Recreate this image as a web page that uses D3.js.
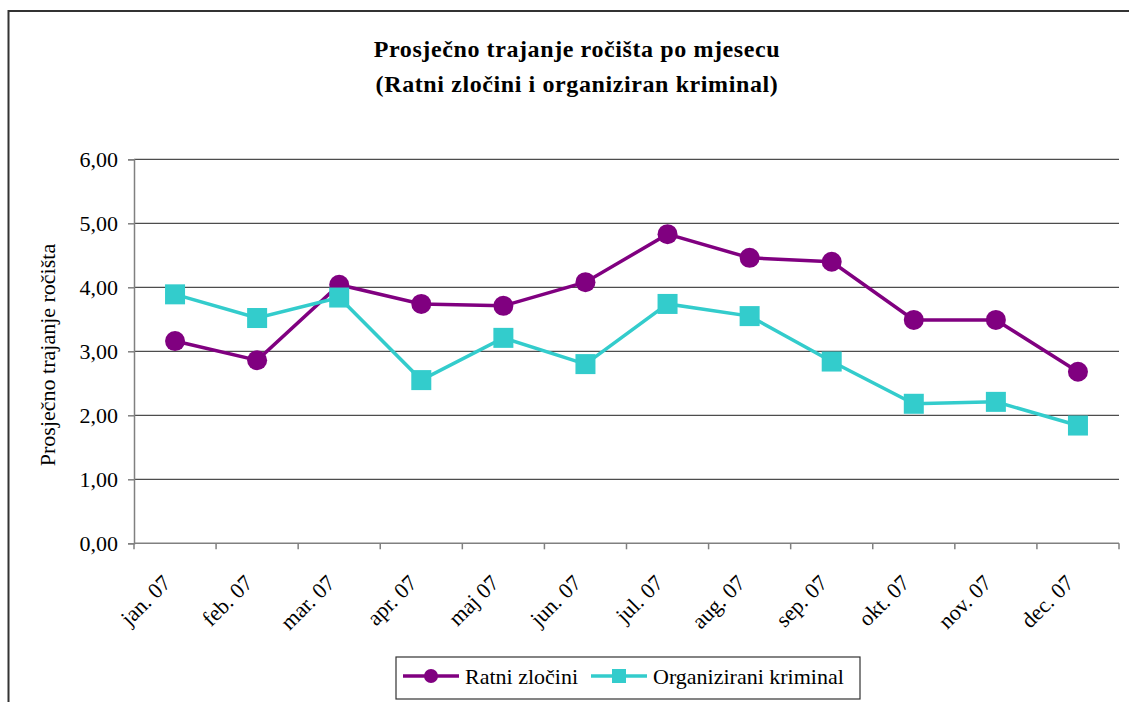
<!DOCTYPE html>
<html>
<head>
<meta charset="utf-8">
<script src="https://cdn.jsdelivr.net/npm/d3@7"></script>
<style>
  body { margin: 0; background: white; }
  svg text { font-family: "Liberation Serif", "Times New Roman", "DejaVu Serif", serif; }
</style>
</head>
<body>
<svg id="chart" width="1129" height="702"></svg>
<script>
const months = ["jan. 07", "feb. 07", "mar. 07", "apr. 07", "maj 07", "jun. 07",
                "jul. 07", "aug. 07", "sep. 07", "okt. 07", "nov. 07", "dec. 07"];
const ratniZlocini = [3.16, 2.86, 4.04, 3.74, 3.71, 4.08, 4.83, 4.46, 4.40, 3.49, 3.49, 2.68];
const organiziraniKriminal = [3.89, 3.52, 3.84, 2.55, 3.21, 2.80, 3.74, 3.55, 2.84, 2.18, 2.21, 1.84];
const yTicks = [0, 1, 2, 3, 4, 5, 6];
const titleLines = ["Prosječno trajanje ročišta po mjesecu", "(Ratni zločini i organiziran kriminal)"];

const series = [
    { name: "Ratni zločini", values: ratniZlocini, colour: "#800080", marker: "circle" },
    { name: "Organizirani kriminal", values: organiziraniKriminal, colour: "#33CCCC", marker: "square" }
];

const fontFamily = '"Liberation Serif", "Times New Roman", serif';
const svg = d3.select("#chart");

// outer chart border
svg.append("rect")
    .attr("x", 8.5).attr("y", 11)
    .attr("width", 1140).attr("height", 720)
    .attr("fill", "none")
    .attr("stroke", "#333")
    .attr("stroke-width", 2);

const plot = { left: 134, right: 1119, top: 159.3, bottom: 543.3 };

const xScale = d3.scaleBand()
    .domain(months)
    .range([plot.left, plot.right]);
const yScale = d3.scaleLinear()
    .domain([0, 6])
    .range([plot.bottom, plot.top]);

// title
svg.selectAll(".title")
    .data(titleLines)
    .join("text")
    .attr("class", "title")
    .attr("x", 577)
    .attr("y", (d, i) => 57 + i * 35)
    .attr("text-anchor", "middle")
    .attr("font-size", 24)
    .attr("font-weight", "bold")
    .attr("letter-spacing", 0.6)
    .text(d => d);

// gridlines
svg.selectAll(".grid")
    .data(yTicks.filter(d => d > 0))
    .join("line")
    .attr("class", "grid")
    .attr("x1", plot.left).attr("x2", plot.right)
    .attr("y1", d => yScale(d)).attr("y2", d => yScale(d))
    .attr("stroke", "#4d4d4d")
    .attr("stroke-width", 1.2);

// y axis
const yAxis = svg.append("g")
    .attr("transform", `translate(${plot.left},0)`)
    .call(d3.axisLeft(yScale).tickValues(yTicks).tickSize(6).tickPadding(10)
        .tickFormat(d => d3.format(".2f")(d).replace(".", ",")));
yAxis.attr("font-family", fontFamily);
yAxis.select(".domain").attr("stroke", "#808080").attr("stroke-width", 1.5);
yAxis.selectAll(".tick line").attr("stroke", "#808080").attr("stroke-width", 1.5);
yAxis.selectAll(".tick text")
    .attr("font-size", 22)
    .attr("fill", "black");

// x axis
const xAxis = svg.append("g")
    .attr("transform", `translate(0,${plot.bottom})`);
xAxis.append("line")
    .attr("x1", plot.left).attr("x2", plot.right)
    .attr("stroke", "#808080").attr("stroke-width", 1.5);
xAxis.selectAll(".xtick")
    .data(months.concat(["end"]))
    .join("line")
    .attr("class", "xtick")
    .attr("x1", (d, i) => i < months.length ? xScale(d) : plot.right)
    .attr("x2", (d, i) => i < months.length ? xScale(d) : plot.right)
    .attr("y1", 0).attr("y2", 6)
    .attr("stroke", "#808080").attr("stroke-width", 1.5);
xAxis.selectAll(".xlabel")
    .data(months)
    .join("text")
    .attr("class", "xlabel")
    .attr("transform", d => `translate(${xScale(d) + xScale.bandwidth() / 2 - 3},41) rotate(-45)`)
    .attr("text-anchor", "end")
    .attr("font-size", 22)
    .text(d => d);

// y axis title
svg.append("text")
    .attr("transform", `translate(55,355) rotate(-90)`)
    .attr("text-anchor", "middle")
    .attr("font-size", 22)
    .text("Prosječno trajanje ročišta");

// series
const line = d3.line()
    .x((d, i) => xScale(months[i]) + xScale.bandwidth() / 2)
    .y(d => yScale(d));

const drawMarker = (g, s, x, y) => {
    if (s.marker === "circle") {
        g.append("circle").attr("cx", x).attr("cy", y).attr("r", 10).attr("fill", s.colour);
    } else {
        g.append("rect").attr("x", x - 10).attr("y", y - 10).attr("width", 20).attr("height", 20).attr("fill", s.colour);
    }
};

series.forEach(s => {
    const g = svg.append("g");
    g.append("path")
        .datum(s.values)
        .attr("fill", "none")
        .attr("stroke", s.colour)
        .attr("stroke-width", 3.5)
        .attr("d", line);
    s.values.forEach((v, i) => drawMarker(g, s, xScale(months[i]) + xScale.bandwidth() / 2, yScale(v)));
});

// legend
const legend = svg.append("g");
legend.append("rect")
    .attr("x", 396).attr("y", 657)
    .attr("width", 464).attr("height", 42)
    .attr("fill", "white")
    .attr("stroke", "#333")
    .attr("stroke-width", 1.2);
const legendX = [403, 591];
series.forEach((s, i) => {
    const g = legend.append("g").attr("transform", `translate(${legendX[i]},676)`);
    g.append("line").attr("x1", 0).attr("x2", 56).attr("stroke", s.colour).attr("stroke-width", 3.5);
    if (s.marker === "circle") {
        g.append("circle").attr("cx", 28).attr("cy", 0).attr("r", 7).attr("fill", s.colour);
    } else {
        g.append("rect").attr("x", 21).attr("y", -7).attr("width", 14).attr("height", 14).attr("fill", s.colour);
    }
    g.append("text")
        .attr("x", 62).attr("y", 8)
        .attr("font-size", 22)
        .text(s.name);
});

svg.selectAll("text").attr("font-family", fontFamily);
</script>
</body>
</html>
